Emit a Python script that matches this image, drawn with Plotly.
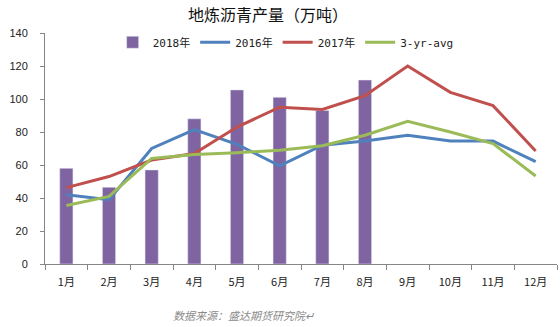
import plotly.graph_objects as go

months = ["1月", "2月", "3月", "4月", "5月", "6月", "7月", "8月", "9月", "10月", "11月", "12月"]
y2018 = [58, 46.5, 57, 88, 105.5, 101, 93, 111.5]
y2016 = [42, 39, 70, 81.5, 72.5, 59.5, 72, 74.5, 78, 74.5, 74.5, 62]
y2017 = [46.3, 53, 63, 67, 83, 95, 93.7, 102, 120, 104, 96, 68.5]
yavg = [35.5, 41, 64, 66.3, 67.5, 69, 71.7, 78, 86.5, 80, 73, 53.3]
yticks = [0, 20, 40, 60, 80, 100, 120, 140]

cjk = "Noto Sans CJK SC"
fig = go.Figure()
fig.add_bar(x=months[:len(y2018)], y=y2018, name="2018年", marker_color="#8064A2", width=0.31)
fig.add_scatter(x=months, y=y2016, name="2016年", mode="lines", line=dict(color="#4F81BD", width=3))
fig.add_scatter(x=months, y=y2017, name="2017年", mode="lines", line=dict(color="#C0504D", width=3))
fig.add_scatter(x=months, y=yavg, name="3-yr-avg", mode="lines", line=dict(color="#9BBB59", width=3))

fig.update_layout(
    width=560, height=327,
    margin=dict(l=45, r=3, t=33, b=63),
    paper_bgcolor="white", plot_bgcolor="white",
    title=dict(text="地炼沥青产量（万吨）", x=268/560, xanchor="center", y=1-15/327, yanchor="middle",
               font=dict(family=cjk, size=16, color="#111")),
    legend=dict(orientation="h", x=0.47, xanchor="center", y=0.96, yanchor="middle",
                font=dict(family="DejaVu Sans Mono, " + cjk, size=11, color="#222"),
                bgcolor="rgba(0,0,0,0)", itemwidth=30, tracegroupgap=0),
    showlegend=True,
    font=dict(family="Liberation Sans, " + cjk, size=11, color="#222"),
    xaxis=dict(type="category", categoryorder="array", categoryarray=months,
               range=[-0.5, 11.5], showline=True, linecolor="#868686", linewidth=1,
               ticks="outside", tickson="boundaries", ticklen=5, tickcolor="#868686",
               ticklabelstandoff=8,
               showgrid=False, tickfont=dict(family=cjk, size=11, color="#222")),
    yaxis=dict(range=[0, 140], tickvals=yticks, showline=True, linecolor="#868686", linewidth=1,
               ticks="outside", ticklen=4, tickcolor="#868686", showgrid=False, zeroline=False,
               ticklabelstandoff=10,
               tickfont=dict(family="Liberation Sans", size=11, color="#222")),
    bargap=0.5,
)
fig.add_annotation(text="<i>数据来源：盛达期货研究院↵</i>", xref="paper", yref="paper",
                   x=(243-45)/512, y=-(315-264)/231, xanchor="center", yanchor="middle",
                   showarrow=False, font=dict(family=cjk, size=11, color="#8a8a8a"))
fig.write_html("out.html")
